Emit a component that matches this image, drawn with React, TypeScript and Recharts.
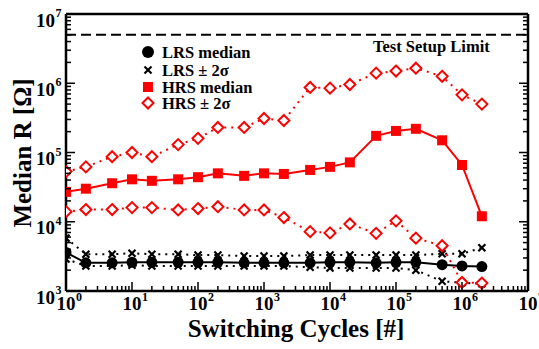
import React from 'react';
import { LineChart, Line, XAxis, YAxis, ReferenceLine } from 'recharts';

// switching cycles (x) and resistances in ohm
const cycles = [1, 2, 5, 10, 20, 50, 100, 200, 500, 1e3, 2e3, 5e3, 1e4, 2e4, 5e4, 1e5, 2e5, 5e5, 1e6, 2e6];
const lrsMedian = [3600, 2550, 2550, 2600, 2600, 2600, 2600, 2600, 2550, 2550, 2550, 2550, 2600, 2600, 2550, 2600, 2600, 2400, 2300, 2250];
const lrsUpper = [5800, 3400, 3400, 3500, 3400, 3400, 3300, 3300, 3200, 3200, 3200, 3300, 3300, 3300, 3300, 3300, 3300, 3450, 3450, 4200];
const lrsLower = [2900, 2300, 2300, 2350, 2300, 2300, 2300, 2300, 2300, 2300, 2300, 2200, 2150, 2150, 2150, 2150, 2000, 1380, 1320, 1270];
const hrsMedian = [27000, 30000, 36000, 41000, 39000, 41000, 44000, 50000, 46000, 50000, 49000, 56000, 62000, 72000, 174000, 205000, 220000, 150000, 66000, 12000];
const hrsUpper = [53000, 62000, 87000, 100000, 87000, 130000, 160000, 230000, 230000, 310000, 290000, 870000, 850000, 960000, 1400000, 1500000, 1650000, 1260000, 680000, 500000];
const hrsLower = [14000, 15000, 15000, 16000, 16000, 14800, 15500, 16500, 14800, 14800, 11500, 7200, 6900, 9300, 6800, 10300, 5800, 4500, 1330, 1300];

const xMajor = [1, 10, 100, 1e3, 1e4, 1e5, 1e6, 1e7];
const yMajor = [1e3, 1e4, 1e5, 1e6, 1e7];
const setupLimit = 5e6;
const legendLabels = ['LRS median', 'LRS \u00b1 2\u03c3', 'HRS median', 'HRS \u00b1 2\u03c3'];

const FONT = "'Liberation Serif', 'Times New Roman', serif";
const RED = '#ff0000';

function withMinors(majors: number[]) {
  const out: number[] = [];
  majors.forEach((m, i) => {
    out.push(m);
    if (i < majors.length - 1) for (let k = 2; k <= 9; k++) out.push(m * k);
  });
  return out;
}

const xTicks = withMinors(xMajor);
const yTicks = withMinors(yMajor);

const data = cycles.map((c, i) => ({
  c,
  lrsMed: lrsMedian[i],
  lrsUp: lrsUpper[i],
  lrsLo: lrsLower[i],
  hrsMed: hrsMedian[i],
  hrsUp: hrsUpper[i],
  hrsLo: hrsLower[i],
}));

function AxisTick(props: any) {
  const { x, y, payload, side, majors } = props;
  const v = payload.value;
  const major = majors.includes(v);
  const len = major ? 9 : 5;
  const exp = String(Math.round(Math.log10(v)));
  let line;
  if (side === 'bottom') line = <line x1={x} x2={x} y1={y} y2={y - len} />;
  else if (side === 'top') line = <line x1={x} x2={x} y1={y} y2={y + len} />;
  else if (side === 'left') line = <line x1={x} x2={x + len} y1={y} y2={y} />;
  else line = <line x1={x} x2={x - len} y1={y} y2={y} />;
  return (
    <g stroke="#000" strokeWidth={1.5}>
      {line}
      {major && side === 'bottom' && (
        <g stroke="none" fill="#000" fontFamily={FONT} fontWeight="bold">
          <text x={x} y={y + 19} fontSize={19} textAnchor="middle">10</text>
          <text x={x + 10} y={y + 10} fontSize={12}>{exp}</text>
        </g>
      )}
      {major && side === 'left' && (
        <g stroke="none" fill="#000" fontFamily={FONT} fontWeight="bold">
          <text x={x - 11} y={y + 12.5} fontSize={19} textAnchor="end">10</text>
          <text x={x - 10.5} y={y + 3} fontSize={12}>{exp}</text>
        </g>
      )}
    </g>
  );
}

const circleDot = (p: any) => <circle key={`c${p.index}`} cx={p.cx} cy={p.cy} r={5.5} fill="#000" />;
const crossDot = (p: any) => (
  <path key={`x${p.index}`} d={`M${p.cx - 3.5},${p.cy - 3.5}L${p.cx + 3.5},${p.cy + 3.5}M${p.cx - 3.5},${p.cy + 3.5}L${p.cx + 3.5},${p.cy - 3.5}`} stroke="#000" strokeWidth={2.2} fill="none" />
);
const squareDot = (p: any) => <rect key={`s${p.index}`} x={p.cx - 5} y={p.cy - 5} width={10} height={10} fill={RED} />;
const diamondDot = (p: any) => (
  <path key={`d${p.index}`} d={`M${p.cx},${p.cy - 5.5}L${p.cx + 5.5},${p.cy}L${p.cx},${p.cy + 5.5}L${p.cx - 5.5},${p.cy}Z`} stroke={RED} strokeWidth={2} fill="#fff" />
);

function Legend() {
  const rows = [52, 70, 87, 103];
  const mx = 148;
  return (
    <g>
      <circle cx={mx} cy={rows[0]} r={6} fill="#000" />
      <path d={`M${mx - 3.5},${rows[1] - 3.5}L${mx + 3.5},${rows[1] + 3.5}M${mx - 3.5},${rows[1] + 3.5}L${mx + 3.5},${rows[1] - 3.5}`} stroke="#000" strokeWidth={2.2} />
      <rect x={mx - 5} y={rows[2] - 5} width={10} height={10} fill={RED} />
      <path d={`M${mx},${rows[3] - 5.5}L${mx + 5.5},${rows[3]}L${mx},${rows[3] + 5.5}L${mx - 5.5},${rows[3]}Z`} stroke={RED} strokeWidth={2} fill="#fff" />
      {legendLabels.map((t, i) => (
        <text key={t} x={162} y={rows[i] + 6} fontSize={16.5} fontFamily={FONT} fontWeight="bold" fill="#000">{t}</text>
      ))}
    </g>
  );
}

export default function App() {
  const axisLine = { stroke: '#000', strokeWidth: 2.5 };
  return (
    <div style={{ position: 'absolute', left: 0, top: 0, width: 539, height: 349, background: '#fff' }}>
      <LineChart width={539} height={349} data={data} margin={{ top: 13, right: 10, left: 65, bottom: 57 }}>
        <XAxis xAxisId="b" dataKey="c" type="number" scale="log" domain={[1, 1e7]} allowDataOverflow ticks={xTicks} interval={0}
          height={1} tickSize={0} tickMargin={0} tickLine={false} axisLine={axisLine} tick={<AxisTick side="bottom" majors={xMajor} />} />
        <XAxis xAxisId="t" orientation="top" type="number" scale="log" domain={[1, 1e7]} allowDataOverflow ticks={xTicks} interval={0}
          height={1} tickSize={0} tickMargin={0} tickLine={false} axisLine={axisLine} tick={<AxisTick side="top" majors={xMajor} />} />
        <YAxis yAxisId="l" type="number" scale="log" domain={[1e3, 1e7]} allowDataOverflow ticks={yTicks} interval={0}
          width={1} tickSize={0} tickMargin={0} tickLine={false} axisLine={axisLine} tick={<AxisTick side="left" majors={yMajor} />} />
        <YAxis yAxisId="r" orientation="right" type="number" scale="log" domain={[1e3, 1e7]} allowDataOverflow ticks={yTicks} interval={0}
          width={1} tickSize={0} tickMargin={0} tickLine={false} axisLine={axisLine} tick={<AxisTick side="right" majors={yMajor} />} />

        <ReferenceLine xAxisId="b" yAxisId="l" y={setupLimit} stroke="#000" strokeWidth={2} strokeDasharray="10 5" />

        <Line xAxisId="b" yAxisId="l" dataKey="lrsMed" stroke="#000" strokeWidth={2} dot={circleDot} activeDot={false} isAnimationActive={false} />
        <Line xAxisId="b" yAxisId="l" dataKey="lrsUp" stroke="#000" strokeWidth={2} strokeDasharray="2 5" dot={crossDot} activeDot={false} isAnimationActive={false} />
        <Line xAxisId="b" yAxisId="l" dataKey="lrsLo" stroke="#000" strokeWidth={2} strokeDasharray="2 5" dot={crossDot} activeDot={false} isAnimationActive={false} />
        <Line xAxisId="b" yAxisId="l" dataKey="hrsMed" stroke={RED} strokeWidth={2} dot={squareDot} activeDot={false} isAnimationActive={false} />
        <Line xAxisId="b" yAxisId="l" dataKey="hrsUp" stroke={RED} strokeWidth={2} strokeDasharray="2 5" dot={diamondDot} activeDot={false} isAnimationActive={false} />
        <Line xAxisId="b" yAxisId="l" dataKey="hrsLo" stroke={RED} strokeWidth={2} strokeDasharray="2 5" dot={diamondDot} activeDot={false} isAnimationActive={false} />
      </LineChart>
      <svg width={539} height={349} style={{ position: 'absolute', left: 0, top: 0, pointerEvents: 'none' }}>
        <Legend />
        <text x={373} y={52} fontSize={16.5} fontFamily={FONT} fontWeight="bold" fill="#000">Test Setup Limit</text>
        <text x={296} y={337} fontSize={25} fontFamily={FONT} fontWeight="bold" textAnchor="middle" fill="#000">Switching Cycles [#]</text>
        <text transform="translate(31,153) rotate(-90)" fontSize={25} fontFamily={FONT} fontWeight="bold" textAnchor="middle" fill="#000">Median R [Ω]</text>
      </svg>
    </div>
  );
}
